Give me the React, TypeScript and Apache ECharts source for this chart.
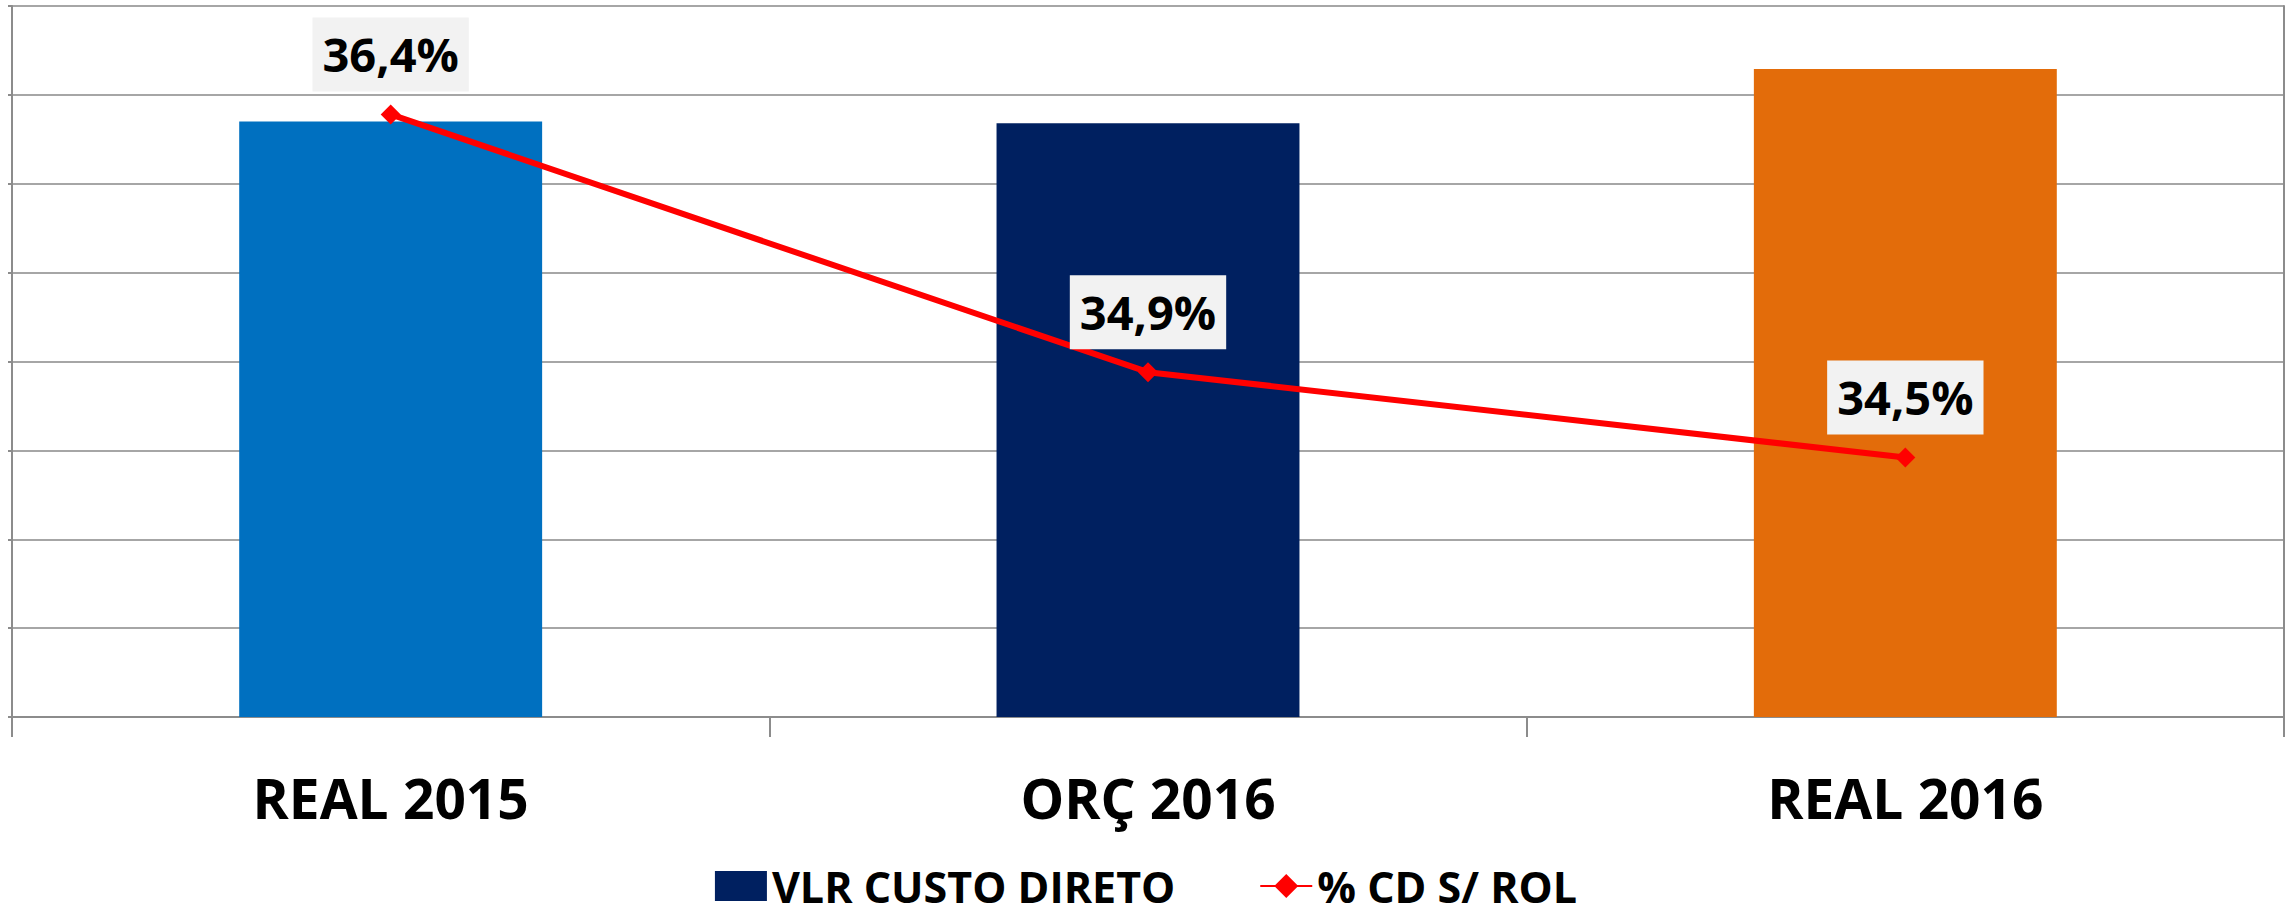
import React, { useEffect, useRef } from "react";
import * as echarts from "echarts";

const categories = ["REAL 2015", "ORÇ 2016", "REAL 2016"];
const custoDireto = [6.7, 6.68, 7.29];
const barColors = ["#0070C0", "#002060", "#E36C0A"];
const pctCdRol = [36.39, 34.94, 34.46];
const seriesNames = ["VLR CUSTO DIRETO", "% CD S/ ROL"];

const FONT = "'Open Sans', 'Noto Sans', sans-serif";
const AXIS_COLOR = "#8c8c8c";
const GRID_COLOR = "#a6a6a6";

export default function App() {
  const ref = useRef<HTMLDivElement>(null);
  useEffect(() => {
    if (!ref.current) return;
    const chart = echarts.init(ref.current, undefined, { renderer: "svg" });
    chart.setOption({
      animation: false,
      backgroundColor: "#ffffff",
      grid: { left: 12, right: 8, top: 6, bottom: 200, containLabel: false },
      legend: {
        left: "center",
        top: 858,
        itemWidth: 52,
        itemHeight: 30,
        itemGap: 84,
        textStyle: { fontFamily: FONT, fontSize: 43, fontWeight: "bold", color: "#000", lineHeight: 46 },
        data: [
          { name: seriesNames[0], icon: "rect" },
          { name: seriesNames[1] },
        ],
      },
      xAxis: {
        type: "category",
        data: categories,
        boundaryGap: true,
        axisLine: { show: true, lineStyle: { color: AXIS_COLOR, width: 2 } },
        axisTick: { show: true, interval: 0, length: 20, lineStyle: { color: AXIS_COLOR, width: 2 } },
        axisLabel: {
          interval: 0,
          margin: 50,
          fontFamily: FONT,
          fontSize: 55,
          fontWeight: "bold",
          color: "#000",
          lineHeight: 60,
        },
        splitLine: { show: false },
      },
      yAxis: [
        {
          type: "value",
          min: 0,
          max: 8,
          interval: 1,
          axisLine: { show: true, lineStyle: { color: AXIS_COLOR, width: 2 } },
          axisTick: { show: true, length: 4, lineStyle: { color: AXIS_COLOR, width: 2 } },
          axisLabel: { show: false },
          splitLine: { show: true, lineStyle: { color: GRID_COLOR, width: 2 } },
        },
        {
          type: "value",
          position: "right",
          min: 33,
          max: 37,
          interval: 0.5,
          axisLine: { show: true, lineStyle: { color: AXIS_COLOR, width: 2 } },
          axisTick: { show: false },
          axisLabel: { show: false },
          splitLine: { show: false },
        },
      ],
      series: [
        {
          name: seriesNames[0],
          type: "bar",
          yAxisIndex: 0,
          barWidth: "40%",
          itemStyle: { color: "#002060" },
          data: custoDireto.map((v, i) => ({ value: v, itemStyle: { color: barColors[i] } })),
        },
        {
          name: seriesNames[1],
          type: "line",
          yAxisIndex: 1,
          symbol: "diamond",
          symbolSize: 20,
          lineStyle: { color: "#FF0000", width: 6 },
          itemStyle: { color: "#FF0000" },
          z: 5,
          label: {
            show: true,
            position: "top",
            distance: 13,
            formatter: (p: any) => p.value.toFixed(1).replace(".", ",") + "%",
            backgroundColor: "#F2F2F2",
            padding: [10, 10],
            fontFamily: FONT,
            fontSize: 47,
            fontWeight: "bold",
            color: "#000",
            lineHeight: 54,
          },
          data: pctCdRol,
        },
      ],
    });
    return () => chart.dispose();
  }, []);
  return (
    <div
      ref={ref}
      style={{ position: "fixed", left: 0, top: 0, width: 2292, height: 917, background: "#fff" }}
    />
  );
}
